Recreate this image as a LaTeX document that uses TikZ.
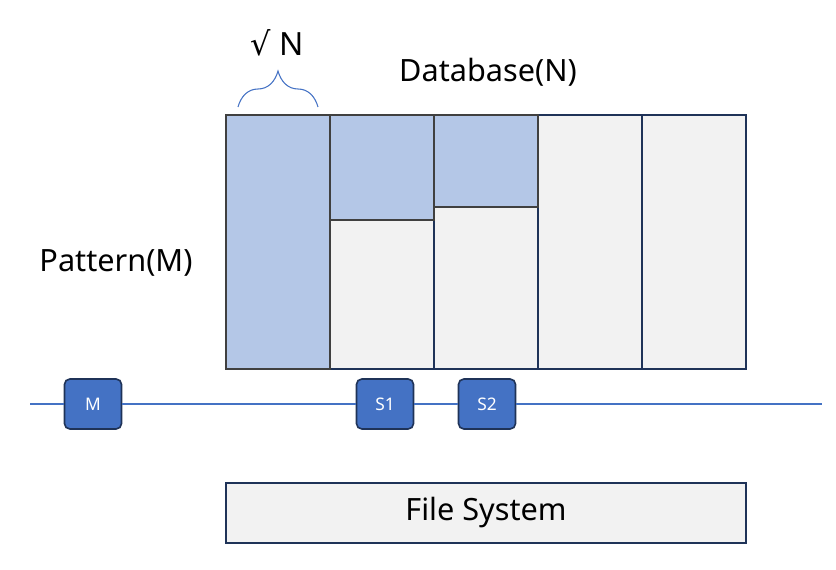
\documentclass[tikz,border=0pt]{standalone}
\usepackage{fontspec}
\setmainfont{Noto Sans}
\newfontfamily\simbolo{DejaVu Sans}
\usetikzlibrary{decorations.pathreplacing}

\definecolor{celdagris}{HTML}{F2F2F2}
\definecolor{celdaazul}{HTML}{B4C7E7}
\definecolor{bordeazul}{HTML}{1F3358}
\definecolor{bordegris}{HTML}{404040}
\definecolor{nodoazul}{HTML}{4472C4}

\tikzset{
  grisbox/.style={fill=celdagris, draw=bordeazul, line width=1.5pt},
  azulbox/.style={fill=celdaazul, draw=bordegris, line width=1.5pt},
  blok/.style={rectangle, rounded corners=4pt, fill=nodoazul, draw=bordeazul,
    line width=1.2pt, minimum width=42.75pt, minimum height=37.5pt,
    text=white, font=\fontsize{13}{15}\selectfont},
  rotulo/.style={font=\fontsize{23}{28}\selectfont, text=black}
}

\begin{document}
\begin{tikzpicture}[x=0.75pt, y=-0.75pt]
        \useasboundingbox (0,0) rectangle (836,570);

        % Paso 1: Columnas de la base de datos
        \foreach \i in {0,...,4}
          \draw[grisbox] (226+104*\i,115) rectangle (330+104*\i,369);

        % Paso 2: Partes marcadas de las columnas
        \draw[azulbox] (226,115) rectangle (330,369);
        \draw[azulbox] (330,115) rectangle (434,220);
        \draw[azulbox] (434,115) rectangle (538,207);

        % Paso 3: Textos
        \node[rotulo] (db) at (488,72) {Database(N)};
        \node[rotulo] (pat) at (116,263) {Pattern(M)};
        \node[rotulo, font=\fontsize{24}{28}\selectfont] (raiz) at (277,43) {{\simbolo √} N};

        % Paso 4: Llave sobre la primera columna
        \draw[nodoazul, line width=0.8pt, decorate,
              decoration={brace, amplitude=27pt}] (238,107) -- (318,107);

        % Paso 5: Nodos sobre la linea
        \coordinate (izq) at (30,404);
        \coordinate (der) at (822,404);
        \node[blok] (M) at (93,404) {M};
        \node[blok] (S1) at (385,404) {S1};
        \node[blok] (S2) at (487,404) {S2};
        \draw[nodoazul, line width=0.8pt] (izq) -- (M) -- (S1) -- (S2) -- (der);

        % Paso 6: Sistema de archivos
        \draw[grisbox] (226,483) rectangle (746,543);
        \node[rotulo] (fs) at (486,513) {File System};
    \end{tikzpicture}
\end{document}
